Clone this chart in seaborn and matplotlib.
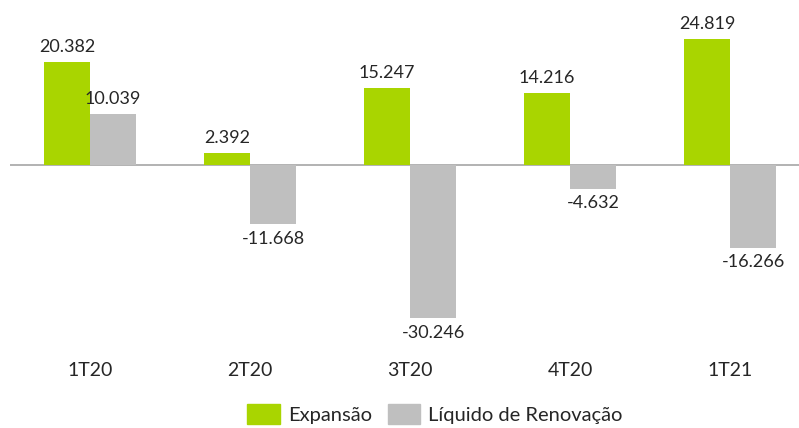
import numpy as np
import pandas as pd
import matplotlib.pyplot as plt
import seaborn as sns

sns.set_theme(style="white")
plt.rcParams["font.family"] = ["Lato", "DejaVu Sans"]

# valores por trimestre (milhares)
TRIMESTRES = ["1T20", "2T20", "3T20", "4T20", "1T21"]
EXPANSAO = [20382, 2392, 15247, 14216, 24819]
RENOVACAO = [10039, -11668, -30246, -4632, -16266]
SERIES = ["Expansão", "Líquido de Renovação"]
CORES = {"Expansão": "#a9d500", "Líquido de Renovação": "#bfbfbf"}

df = pd.DataFrame({
    "trimestre": TRIMESTRES * 2,
    "valor": EXPANSAO + RENOVACAO,
    "serie": [SERIES[0]] * len(TRIMESTRES) + [SERIES[1]] * len(TRIMESTRES),
})


def fmt_br(v):
    # separador de milhar no padrão brasileiro
    return f"{v:,.0f}".replace(",", ".")


fig = plt.figure(figsize=(7.99, 4.28), dpi=100)
ax = fig.add_axes([10 / 799, 88 / 428, 789 / 799, 320 / 428])

sns.barplot(data=df, x="trimestre", y="valor", hue="serie", palette=CORES,
            width=0.575, saturation=1, linewidth=0, ax=ax, legend=False)

for cont, vals in zip(ax.containers, [EXPANSAO, RENOVACAO]):
    ax.bar_label(cont, labels=[fmt_br(v) for v in vals], padding=5,
                 fontsize=13, color="#262626")

ax.axhline(0, color="#a6a6a6", lw=1.2, zorder=0)
ax.set_xlim(-0.5, 4.43)
ax.set_ylim(-34500, 28600)
ax.set_yticks([])
ax.set_xlabel("")
ax.set_ylabel("")
ax.tick_params(axis="x", length=0, pad=16, labelsize=14, labelcolor="#262626")
sns.despine(ax=ax, left=True, bottom=True)

handles = [plt.Rectangle((0, 0), 1, 1, color=CORES[s]) for s in SERIES]
fig.legend(handles, SERIES, loc="center", bbox_to_anchor=(435 / 799, 1 - 414 / 428),
           ncol=2, frameon=False, fontsize=14.5, handlelength=1.6, handleheight=1.2,
           handletextpad=0.4, columnspacing=0.8, labelcolor="#262626")

fig.savefig("out.png", dpi=100)
